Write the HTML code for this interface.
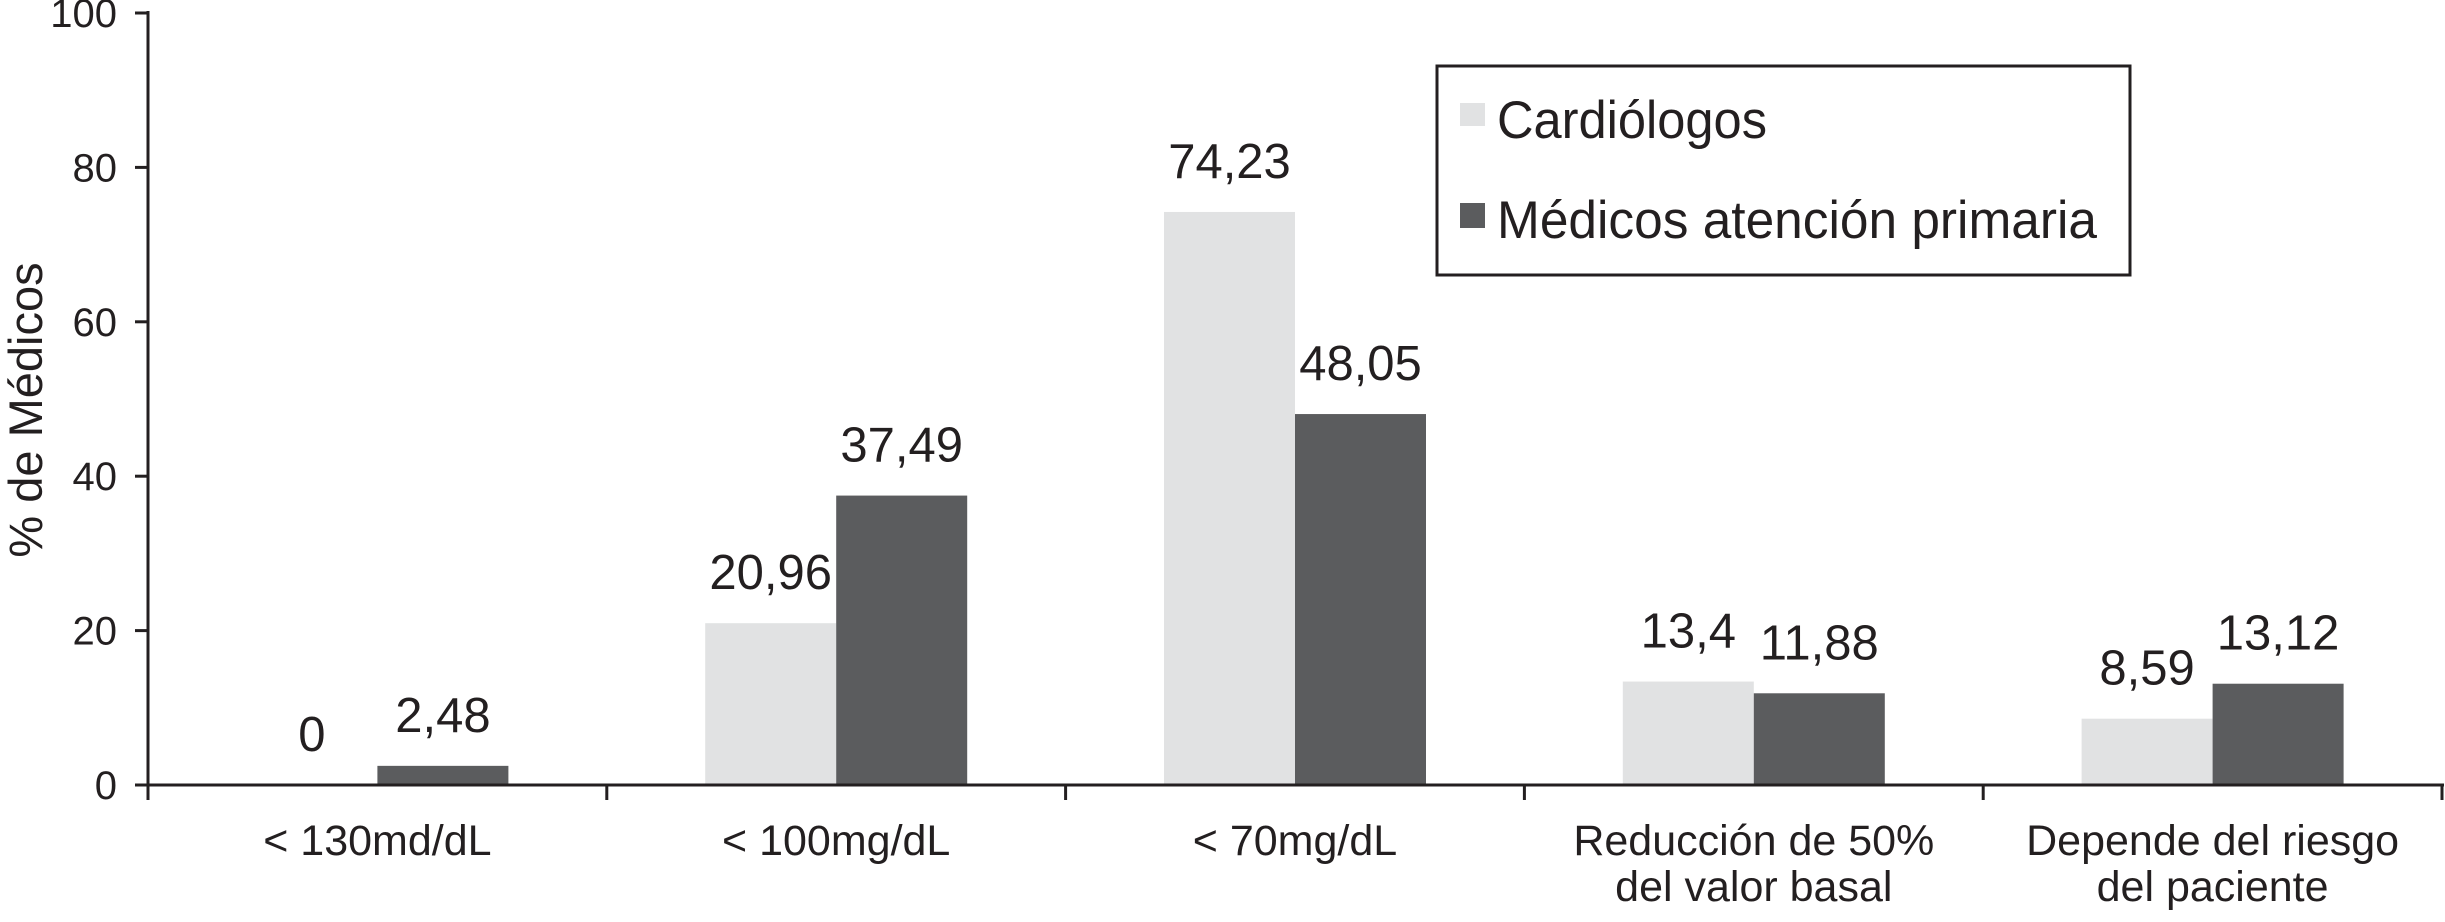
<!DOCTYPE html>
<html><head><meta charset="utf-8"><style>
html,body{margin:0;padding:0;background:#fff;}
svg{display:block;font-family:"Liberation Sans",sans-serif;}
</style></head><body>
<svg id="chart" width="2445" height="922" viewBox="0 0 2445 922" xmlns="http://www.w3.org/2000/svg">
<g id="bars"></g>
<g id="axes"></g>
<text transform="translate(42,410) rotate(-90)" text-anchor="middle" font-size="47" fill="#231f20">% de Médicos</text>
<g>
<rect x="1437" y="66" width="693" height="209" fill="#fff" stroke="#231f20" stroke-width="3"/>
<rect x="1460" y="103" width="25" height="23" fill="#e1e2e3"/>
<text x="1497" y="138" font-size="53" fill="#231f20" textLength="270" lengthAdjust="spacingAndGlyphs">Cardiólogos</text>
<rect x="1460" y="203" width="25" height="25" fill="#5b5c5e"/>
<text x="1497" y="238" font-size="53" fill="#231f20" textLength="600" lengthAdjust="spacingAndGlyphs">Médicos atención primaria</text>
</g>
</svg>
<script>
const categories = [["< 130md/dL"],["< 100mg/dL"],["< 70mg/dL"],["Reducción de 50%","del valor basal"],["Depende del riesgo","del paciente"]];
const cardiologos = [0, 20.96, 74.23, 13.4, 8.59];
const primaria = [2.48, 37.49, 48.05, 11.88, 13.12];
const cardLabels = ["0","20,96","74,23","13,4","8,59"];
const primLabels = ["2,48","37,49","48,05","11,88","13,12"];
const yTicks = [0,20,40,60,80,100];

const NS="http://www.w3.org/2000/svg";
const x0=148, x1=2442, y0=785, y100=13;
const cw=(x1-x0)/categories.length, bw=131;
const yS=v=>y0-(v/100)*(y0-y100);
const cx=i=>x0+cw*(i+0.5);
function mk(tag,attrs,parent,txt){const e=document.createElementNS(NS,tag);for(const k in attrs)e.setAttribute(k,attrs[k]);if(txt!==undefined)e.textContent=txt;parent.appendChild(e);return e;}
const bars=document.getElementById('bars'), axes=document.getElementById('axes');
categories.forEach((c,i)=>{
  const c1=yS(cardiologos[i]), p1=yS(primaria[i]);
  const b1=mk('rect',{x:cx(i)-bw,y:c1,width:bw,height:y0-c1,fill:'#e1e2e3'},bars);
  
  
  const b2=mk('rect',{x:cx(i),y:p1,width:bw,height:y0-p1,fill:'#5b5c5e'},bars);
  
  
  const l1=mk('text',{x:cx(i)-bw/2,y:c1-34,'text-anchor':'middle','font-size':49,fill:'#231f20'},bars,cardLabels[i]);
  
  
  const l2=mk('text',{x:cx(i)+bw/2,y:p1-34,'text-anchor':'middle','font-size':49,fill:'#231f20'},bars,primLabels[i]);
  
  
  c.forEach((line,j)=>{
    const t=mk('text',{x:cx(i),y:855+j*46,'text-anchor':'middle','font-size':43,fill:'#231f20'},axes,line);
    
    
  });
});
mk('line',{x1:x0,y1:y100-2,x2:x0,y2:y0+15,stroke:'#231f20','stroke-width':3},axes);
mk('line',{x1:x0,y1:y0,x2:x1+2,y2:y0,stroke:'#231f20','stroke-width':3},axes);
for(let i=0;i<=categories.length;i++){
  mk('line',{x1:x0+cw*i,y1:y0,x2:x0+cw*i,y2:y0+15,stroke:'#231f20','stroke-width':3},axes);
}
yTicks.forEach(v=>{
  mk('line',{x1:x0-13,y1:yS(v),x2:x0,y2:yS(v),stroke:'#231f20','stroke-width':3},axes);
  const t=mk('text',{x:117,y:yS(v)+14,'text-anchor':'end','font-size':40,fill:'#231f20'},axes,String(v));
  
  
});
</script>
</body></html>
